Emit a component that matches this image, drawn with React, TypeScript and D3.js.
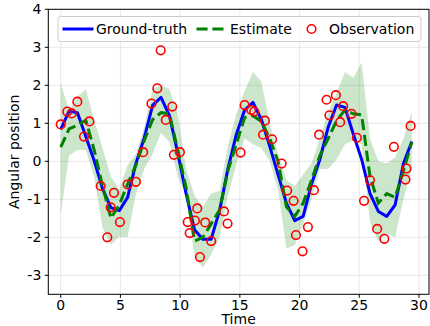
import React from 'react';
import * as d3 from 'd3';

// time steps of the filter
const times = [0, 0.7, 1.4, 2.1, 2.8, 3.5, 4.2, 4.9, 5.6, 6.3, 7.0, 7.7, 8.4, 9.1, 9.8, 10.5, 11.2, 11.9, 12.6, 13.3, 14.0,
    14.7, 15.4, 16.1, 16.8, 17.5, 18.2, 18.9, 19.6, 20.3, 21.0, 21.7, 22.4, 23.1, 23.8, 24.5, 25.2, 25.9, 26.6, 27.3, 28.0, 28.7, 29.4];

const groundTruth = [0.84, 1.32, 1.28, 0.65, 0.02, -0.72, -1.22, -1.30, -0.95, -0.05, 0.62, 1.48, 1.68, 1.20, 0.22, -0.85, -1.80,
    -2.05, -2.05, -1.30, -0.20, 0.70, 1.35, 1.55, 1.10, 0.40, -0.35, -1.10, -1.56, -1.45, -0.60, 0.05, 0.90, 1.48, 1.42, 0.72,
    0.05, -0.85, -1.32, -1.45, -1.15, -0.06, 0.52];

const estimate = [0.37, 0.85, 0.95, 1.08, 0.30, -0.65, -1.50, -1.15, -0.60, -0.10, 0.55, 1.10, 1.28, 1.25, 0.30, -0.70, -2.10,
    -2.00, -1.65, -1.28, -0.25, 0.45, 1.15, 1.20, 1.05, 0.60, 0.00, -1.20, -1.45, -1.10, -0.50, 0.15, 0.60, 1.07, 1.35, 1.25,
    1.22, -0.40, -1.10, -0.85, -0.95, -0.25, 0.50];

const upperBound = [2.05, 1.35, 1.70, 1.90, 1.10, 0.35, -0.40, -0.75, -0.10, 0.20, 0.90, 1.90, 2.00, 1.90, 1.25, -0.20, -0.90,
    -1.20, -0.85, -0.78, 0.40, 1.25, 1.85, 2.35, 2.10, 1.00, 0.20, -0.50, -0.65, -0.35, -0.05, 0.60, 1.30, 1.80, 2.35, 2.20,
    2.60, 0.60, 0.00, -0.05, 0.10, 0.60, 1.30];

const lowerBound = [-1.40, 0.15, 0.30, 0.30, -0.40, -1.75, -2.20, -1.98, -2.00, -0.85, -0.20, 0.20, 0.75, 0.50, -0.40, -0.90,
    -2.50, -2.80, -2.45, -2.00, -0.90, -0.10, 0.60, 0.45, 0.35, 0.00, -0.75, -2.30, -2.20, -1.65, -1.00, -0.20, -0.20, 0.05,
    0.45, 0.55, 0.45, -1.60, -2.10, -1.90, -2.00, -1.00, -0.20];

// noisy observations (time, value)
const obsTimes = [0, 0.55, 0.92, 1.39, 1.95, 2.4, 3.35, 3.9, 4.18, 4.46, 4.96, 5.6, 6.3, 6.9, 7.6, 8.09, 8.37, 8.8, 9.34, 9.48,
    9.98, 10.63, 10.8, 11.24, 11.43, 11.66, 12.1, 12.6, 13.67, 13.97, 15.06, 15.4, 15.95, 16.2, 16.95, 17.1, 17.7, 18.5, 18.96,
    19.5, 19.7, 20.25, 20.7, 21.2, 21.64, 22.26, 22.5, 23.04, 23.4, 23.65, 24.35, 24.8, 25.4, 25.9, 26.5, 27.1, 27.9, 28.87,
    28.95, 29.3];
const obsValues = [0.97, 1.31, 1.26, 1.57, 0.65, 1.05, -0.65, -2.0, -1.21, -0.83, -1.6, -0.61, -0.54, 0.24, 1.52, 1.92, 2.92,
    1.09, 1.44, 0.17, 0.24, -1.6, -1.89, -1.56, -1.24, -2.52, -1.61, -2.1, -1.32, -1.64, 0.23, 1.48, 1.35, 1.31, 0.7, 1.07, 0.58,
    -0.06, -0.77, -1.04, -1.94, -2.37, -1.73, -0.76, 0.7, 1.62, 1.21, 1.74, 1.03, 1.45, 1.25, 0.62, -1.04, -0.5, -1.78, -2.04,
    0.38, -0.48, -0.19, 0.93];

const xTicks = [0, 5, 10, 15, 20, 25, 30];
const yTicks = [-3, -2, -1, 0, 1, 2, 3, 4];

const font = 'DejaVu Sans, sans-serif';

export default function App() {
    const width = 430;
    const height = 326;
    const margin = { top: 9.3, right: 1, bottom: 31.7, left: 48.3 };
    const plotW = width - margin.left - margin.right;
    const plotH = height - margin.top - margin.bottom;

    const x = d3.scaleLinear().domain([-1.04, 30.84]).range([0, plotW]);
    const y = d3.scaleLinear().domain([-3.5, 4]).range([plotH, 0]);

    const idx = d3.range(times.length);
    const band = d3.area<number>()
        .x(i => x(times[i]))
        .y0(i => y(lowerBound[i]))
        .y1(i => y(upperBound[i]));
    const truthLine = d3.line<number>().x(i => x(times[i])).y(i => y(groundTruth[i]));
    const estLine = d3.line<number>().x(i => x(times[i])).y(i => y(estimate[i]));

    return (
        <svg width={width} height={height} style={{ position: 'absolute', left: 0, top: 0 }} fontFamily={font}>
            <rect width={width} height={height} fill="#fff" />
            <g transform={`translate(${margin.left},${margin.top})`}>
                {/* grid */}
                {xTicks.map(t => (
                    <line key={'gx' + t} x1={x(t)} x2={x(t)} y1={0} y2={plotH} stroke="#b0b0b0" strokeOpacity={0.35} strokeWidth={0.8} />
                ))}
                {yTicks.map(t => (
                    <line key={'gy' + t} x1={0} x2={plotW} y1={y(t)} y2={y(t)} stroke="#b0b0b0" strokeOpacity={0.35} strokeWidth={0.8} />
                ))}

                <path d={band(idx) || ''} fill="green" fillOpacity={0.2} />
                <path d={truthLine(idx) || ''} fill="none" stroke="#0000ff" strokeWidth={3} strokeLinejoin="round" />
                <path d={estLine(idx) || ''} fill="none" stroke="#008000" strokeWidth={3} strokeDasharray="11.1,4.8" />
                {obsTimes.map((t, i) => (
                    <circle key={'o' + i} cx={x(t)} cy={y(obsValues[i])} r={4.3} fill="none" stroke="#ff0000" strokeWidth={1.6} />
                ))}

                {/* spines */}
                <rect x={0} y={0} width={plotW} height={plotH} fill="none" stroke="#000" strokeWidth={1} />

                {/* ticks */}
                {xTicks.map(t => (
                    <g key={'tx' + t} transform={`translate(${x(t)},${plotH})`}>
                        <line y1={0} y2={3.5} stroke="#000" />
                        <text y={16} textAnchor="middle" fontSize={14} fill="#000">{t}</text>
                    </g>
                ))}
                {yTicks.map(t => (
                    <g key={'ty' + t} transform={`translate(0,${y(t)})`}>
                        <line x1={0} x2={-3.5} stroke="#000" />
                        <text x={-7} dy="0.36em" textAnchor="end" fontSize={14} fill="#000">{t}</text>
                    </g>
                ))}
                <text x={plotW / 2} y={plotH + 30} textAnchor="middle" fontSize={14} fill="#000">Time</text>
                <text transform={`translate(${-29.5},${plotH / 2}) rotate(-90)`} textAnchor="middle" fontSize={14} fill="#000">
                    Angular position
                </text>
            </g>

            {/* legend */}
            <g>
                <rect x={58} y={16.5} width={363} height={25} rx={3} fill="#fff" fillOpacity={0.8} stroke="#cccccc" strokeWidth={1} />
                <line x1={62.5} x2={93.5} y1={29} y2={29} stroke="#0000ff" strokeWidth={3} />
                <text x={96} y={34} fontSize={14} fill="#000">Ground-truth</text>
                <line x1={196.5} x2={227} y1={29} y2={29} stroke="#008000" strokeWidth={3} strokeDasharray="11.1,4.8" />
                <text x={230} y={34} fontSize={14} fill="#000">Estimate</text>
                <circle cx={311.5} cy={29} r={4.3} fill="none" stroke="#ff0000" strokeWidth={1.6} />
                <text x={329} y={34} fontSize={14} fill="#000">Observation</text>
            </g>
        </svg>
    );
}
